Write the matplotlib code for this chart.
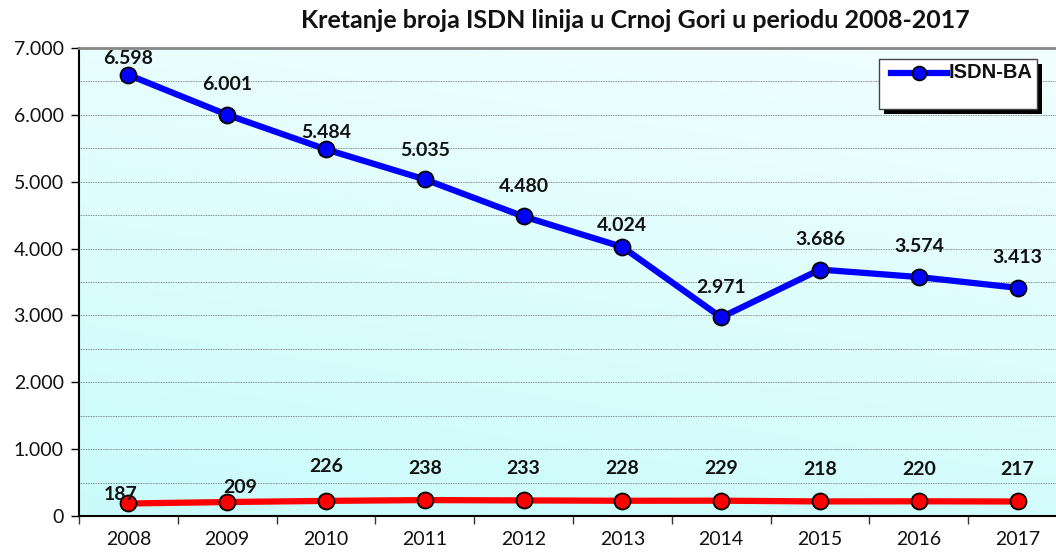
import numpy as np
import matplotlib
matplotlib.use("Agg")
import matplotlib.pyplot as plt
from matplotlib.patches import Rectangle
from matplotlib.lines import Line2D
from matplotlib.ticker import MultipleLocator, FixedLocator

years = ["2008", "2009", "2010", "2011", "2012", "2013", "2014", "2015", "2016", "2017"]
isdn_ba = [6598, 6001, 5484, 5035, 4480, 4024, 2971, 3686, 3574, 3413]
isdn_pra = [187, 209, 226, 238, 233, 228, 229, 218, 220, 217]
ba_labels = ["6.598", "6.001", "5.484", "5.035", "4.480", "4.024", "2.971", "3.686", "3.574", "3.413"]
pra_labels = ["187", "209", "226", "238", "233", "228", "229", "218", "220", "217"]
y_ticks = [0, 1000, 2000, 3000, 4000, 5000, 6000, 7000]
y_ticklabels = ["0", "1.000", "2.000", "3.000", "4.000", "5.000", "6.000", "7.000"]

# label offsets in pixels (dx, dy), as placed in the original
ba_offsets = [(0, 16), (0, 30), (0, 17), (0, 29), (0, 30), (0, 21), (0, 30), (0, 30), (0, 31), (0, 30)]
pra_offsets = [(-8, 9), (13, 15), (0, 34), (0, 32), (0, 32), (0, 32), (0, 32), (0, 32), (0, 32), (0, 32)]

W, H = 1056, 552
fig = plt.figure(figsize=(W / 100, H / 100), dpi=100)
fig.patch.set_facecolor("white")

left, bottom_px, top_px, right = 79, 516, 48, 1067
ax = fig.add_axes([left / W, (H - bottom_px) / H, (right - left) / W, (bottom_px - top_px) / H])

x = np.arange(len(years))
ax.set_xlim(-0.5, len(years) - 0.5)

# gradient background
gy, gx = np.mgrid[0:1:200j, 0:1:200j]
t = np.clip(0.75 * gy + 0.25 * gx, 0, 1)
top_c = np.array([0.79, 0.985, 0.985])
bot_c = np.array([0.95, 1.0, 1.0])
img = top_c[None, None, :] * (1 - t[..., None]) + bot_c[None, None, :] * t[..., None]
ax.imshow(img, extent=[-0.5, len(years) - 0.5, 7000, 0], aspect="auto", zorder=0)
ax.set_ylim(0, 7000)

ax.yaxis.set_major_locator(FixedLocator(y_ticks))
ax.yaxis.set_minor_locator(MultipleLocator(500))
ax.set_yticklabels(y_ticklabels)
ax.grid(True, which="both", axis="y", color="#666666", linestyle=(0, (1, 1)), linewidth=0.6, zorder=1)

ax.set_xticks(x)
ax.set_xticklabels(years)
ax.xaxis.set_minor_locator(FixedLocator(np.arange(-0.5, len(years), 1)))
ax.tick_params(axis="x", which="major", length=0, pad=11)
ax.tick_params(axis="x", which="minor", length=6, width=1, color="#333333")
ax.tick_params(axis="y", which="major", length=6, width=1, pad=5)
ax.tick_params(axis="y", which="minor", length=0)
for lab in ax.get_xticklabels() + ax.get_yticklabels():
    lab.set_fontfamily("Lato")
    lab.set_fontsize(14)
    lab.set_color("#111111")

ax.spines["left"].set_color("black")
ax.spines["left"].set_linewidth(1.5)
ax.spines["bottom"].set_color("black")
ax.spines["bottom"].set_linewidth(1.5)
ax.spines["top"].set_color("#888888")
ax.spines["top"].set_linewidth(2)
ax.spines["right"].set_visible(False)

ax.plot(x, isdn_ba, color="#0000ff", linewidth=4.5, marker="o", markersize=11.5,
        markerfacecolor="#0000ff", markeredgecolor="black", markeredgewidth=1.3, zorder=3, clip_on=False)
ax.plot(x, isdn_pra, color="#ff0000", linewidth=4.5, marker="o", markersize=11.5,
        markerfacecolor="#ff0000", markeredgecolor="black", markeredgewidth=1.3, zorder=3, clip_on=False)

for xi, v, s, (dx, dy) in zip(x, isdn_ba, ba_labels, ba_offsets):
    ax.annotate(s, (xi, v), xytext=(dx, dy), textcoords="offset pixels", ha="center", va="center",
                fontfamily="Lato", fontweight="bold", fontsize=14, color="#111111", zorder=4)
for xi, v, s, (dx, dy) in zip(x, isdn_pra, pra_labels, pra_offsets):
    ax.annotate(s, (xi, v), xytext=(dx, dy), textcoords="offset pixels", ha="center", va="center",
                fontfamily="Lato", fontweight="bold", fontsize=14, color="#111111", zorder=4)

fig.text(635 / W, 1 - 20 / H, "Kretanje broja ISDN linija u Crnoj Gori u periodu 2008-2017",
         ha="center", va="center", fontfamily="Lato", fontweight="bold", fontsize=18, color="#111111")

# legend box with black shadow, drawn in pixel coords
def px(xp, yp):
    return xp / W, 1 - yp / H

sx, sy = px(884, 114)
fig.patches.append(Rectangle((sx, sy), (1042 - 884) / W, (114 - 64) / H, transform=fig.transFigure,
                             facecolor="black", edgecolor="none", zorder=5))
bx, by = px(879, 109)
fig.patches.append(Rectangle((bx, by), (1037 - 879) / W, (109 - 59) / H, transform=fig.transFigure,
                             facecolor="white", edgecolor="#444444", linewidth=1, zorder=6))
lx0, ly = px(891, 73)
lx1, _ = px(947, 73)
fig.lines.append(Line2D([lx0, lx1], [ly, ly], transform=fig.transFigure, color="#0000ff", linewidth=4.5, zorder=7))
mx, _ = px(919, 73)
fig.lines.append(Line2D([mx], [ly], transform=fig.transFigure, marker="o", markersize=10,
                        markerfacecolor="#0000ff", markeredgecolor="black", markeredgewidth=1.2, zorder=8))
tx, _ = px(949, 73)
fig.text(tx, ly, "ISDN-BA", ha="left", va="center", fontfamily="Liberation Sans", fontweight="bold",
         fontsize=14.5, color="#111111", zorder=9)

fig.savefig("out.png", dpi=100)
